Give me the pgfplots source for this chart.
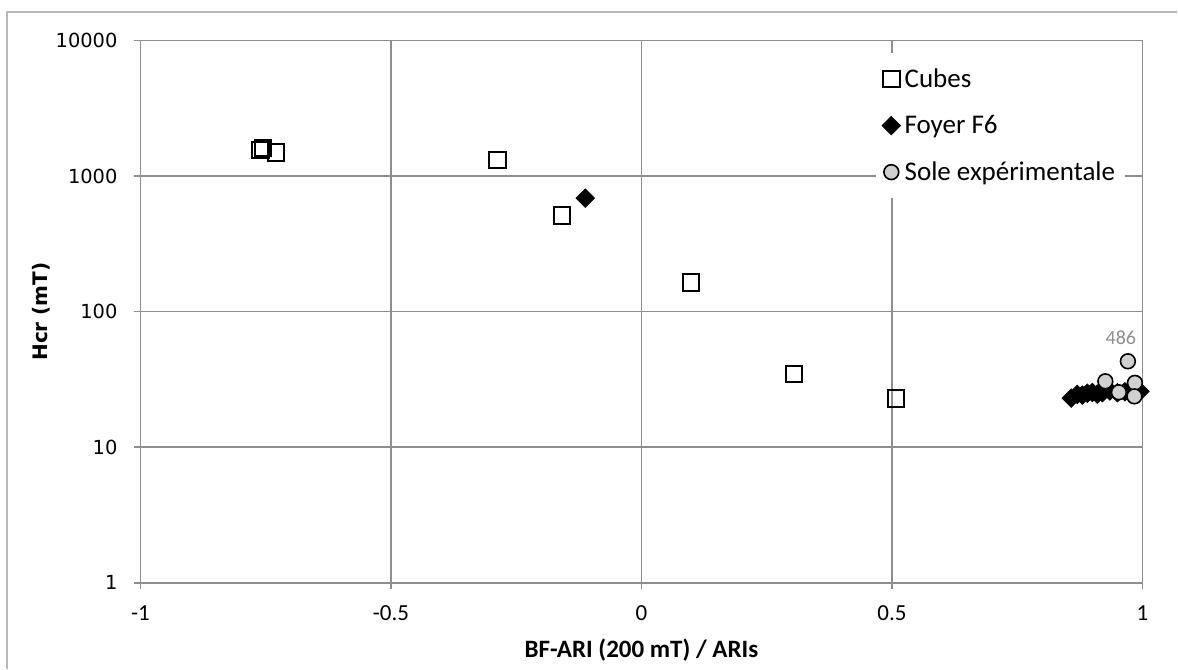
\documentclass[border=0pt]{standalone}
\usepackage{fontspec}
\setmainfont{Carlito}
\newfontfamily\dejavu{DejaVu Sans}
\usepackage{pgfplots}
\pgfplotsset{compat=1.18}
\definecolor{gridgray}{HTML}{8E8E8E}
\definecolor{solegray}{HTML}{D0D0D0}
\begin{document}
\begin{tikzpicture}
\begin{semilogyaxis}[
  at={(0pt,0pt)}, anchor=south west,
  scale only axis,
  width=501.25pt, height=271.25pt,
  xmin=-1, xmax=1, ymin=1, ymax=10000,
  xtick={-1,-0.5,0,0.5,1},
  xticklabels={-1,-0.5,0,0.5,1},
  ytick={1,10,100,1000,10000},
  yticklabels={1,10,100,1000,10000},
  yminorticks=false,
  grid=major,
  major grid style={draw=gridgray, line width=0.8pt},
  axis line style={draw=gridgray, line width=0.9pt},
  tick style={draw=gridgray, line width=0.8pt},
  tick align=outside, tick pos=left,
  major tick length=3pt,
  xticklabel style={font=\fontsize{11.5}{13}\selectfont, yshift=-5pt},
  yticklabel style={font=\dejavu\fontsize{9.7}{11}\selectfont, xshift=-5pt},
  xlabel={\textbf{BF-ARI (200 mT) / ARIs}},
  ylabel={\dejavu\bfseries Hcr (mT)},
  xlabel style={font=\fontsize{12.5}{14}\selectfont, yshift=-2pt},
  ylabel style={font=\fontsize{10}{12}\selectfont, yshift=-4pt},
  legend style={at={(rel axis cs:0.7337,0.977)}, anchor=north west,
    draw=none, fill=white, font=\fontsize{13.5}{16}\selectfont,
    row sep=8.5pt, inner xsep=3pt, inner ysep=5.5pt},
  legend cell align=left,
  legend image code/.code={\draw[mark repeat=2,mark phase=2,#1] plot coordinates {(0pt,0pt)(5pt,0pt)(10pt,0pt)};},
  clip=false,
]
\addplot[only marks, mark=square, mark size=4.1pt, mark options={draw=black, line width=1pt, fill=white}] coordinates {
(-0.760,1560) (-0.755,1607) (-0.729,1489) (-0.287,1316) (-0.159,512)
(0.099,164) (0.304,34.8) (0.508,22.8)
};
\addlegendentry{Cubes}
\addplot[only marks, mark=square*, mark size=3.3pt, mark options={draw=black, fill=black, line width=0.3pt, rotate=45}] coordinates {
(-0.112,687) (0.858,23) (0.870,24.5) (0.880,24.2) (0.890,25) (0.900,25.3)
(0.910,24.6) (0.920,25.2) (0.935,26) (0.950,25.2) (0.965,25.6) (0.980,26.2) (0.995,25.8)
};
\addlegendentry{Foyer F6}
\addplot[only marks, mark=*, mark size=3.7pt, mark options={draw=black, fill=solegray, line width=0.8pt}] coordinates {
(0.926,30.6) (0.953,25.4) (0.971,43) (0.985,29.8) (0.984,23.7)
};
\addlegendentry{Sole expérimentale}
\node[text=gridgray, font=\fontsize{10}{12}\selectfont] at (axis cs:0.957,64) {486};
\end{semilogyaxis}
\draw[gray!55, line width=0.6pt] (-66.75pt,-43pt) -- (-66.75pt,285.5pt) -- (518.75pt,285.5pt);
\path[use as bounding box] (-70.25pt,-43pt) rectangle (518.75pt,291.5pt);
\end{tikzpicture}
\end{document}
